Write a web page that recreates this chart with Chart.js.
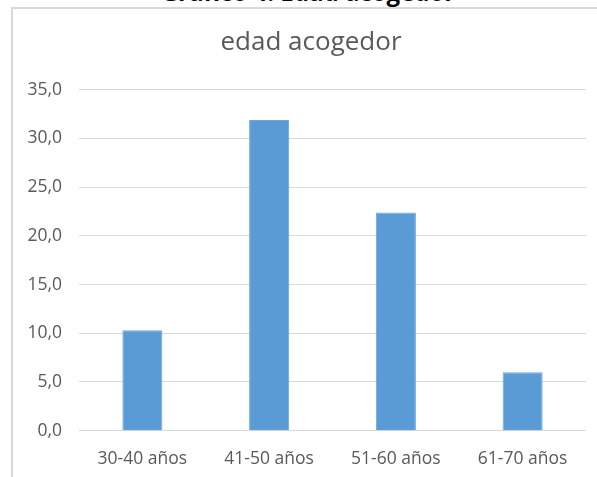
<!DOCTYPE html>
<html>
<head>
<meta charset="utf-8">
<script src="https://cdn.jsdelivr.net/npm/chart.js@4/dist/chart.umd.min.js"></script>
<style>
  html, body { margin: 0; padding: 0; background: #fff; }
  #wrap { position: relative; width: 597px; height: 477px; overflow: hidden; }
  #frame { position: absolute; left: 11px; top: 7px; right: -10px; bottom: -10px;
           border-left: 2px solid #d9d9d9; border-top: 2px solid #d9d9d9; }
  #cap { position: absolute; left: 158px; width: 300px; top: -20px; text-align: center; white-space: nowrap;
         font-family: "Open Sans", sans-serif; font-weight: bold; font-size: 24px; color: #000; line-height: 24px; }
  canvas { position: absolute; left: 0; top: 0; }
</style>
</head>
<body>
<div id="wrap">
  <div id="cap">Gráfico 4. Edad acogedor</div>
  <div id="frame"></div>
  <canvas id="c" width="597" height="477"></canvas>
</div>
<script>
const categories = ["30-40 años", "41-50 años", "51-60 años", "61-70 años"];
const values = [10.3, 31.9, 22.4, 6.0];
const yTicks = [0, 5, 10, 15, 20, 25, 30, 35];
const chartTitle = "edad acogedor";

const grey = "#595959";
const shiftTitle = {
  id: "shiftTitle",
  afterLayout(chart) {
    const t = chart.titleBlock;
    if (t) { t.left += 12.5; t.right += 12.5; }
  }
};
new Chart(document.getElementById("c"), {
  type: "bar",
  data: {
    labels: categories,
    datasets: [{
      data: values,
      backgroundColor: "#5b9bd5",
      borderColor: "#6aa6dc",
      borderWidth: 1,
      barPercentage: 1,
      categoryPercentage: 0.316
    }]
  },
  options: {
    responsive: false,
    animation: false,
    devicePixelRatio: 1,
    layout: { padding: { left: 11, right: 11, top: 8, bottom: 0 } },
    plugins: {
      legend: { display: false },
      tooltip: { enabled: false },
      title: {
        display: true,
        text: chartTitle,
        color: grey,
        font: { family: "Open Sans", size: 26, weight: "normal" },
        padding: { top: 19.4, bottom: 31.1 }
      }
    },
    scales: {
      x: {
        grid: { display: false },
        border: { display: false },
        ticks: { color: grey, font: { family: "Open Sans", size: 17.5 }, padding: 10, maxRotation: 0 },
        afterFit: s => { s.height = 46.3; }
      },
      y: {
        min: 0, max: 35,
        afterBuildTicks: s => { s.ticks = yTicks.map(v => ({ value: v })); },
        grid: { color: "#d9d9d9", lineWidth: 1, drawTicks: false },
        border: { display: false },
        ticks: {
          color: grey, font: { family: "Open Sans", size: 17.5 }, padding: 17,
          callback: v => v.toFixed(1).replace(".", ",")
        },
        afterFit: s => { s.width = 68; }
      }
    }
  },
  plugins: [shiftTitle]
});
</script>
</body>
</html>
